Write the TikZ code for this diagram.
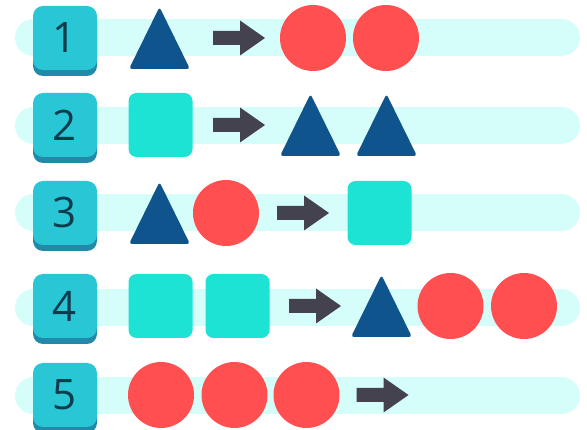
\documentclass[tikz,border=0pt]{standalone}
\usepackage{fontspec}
\setmainfont{Open Sans}
\definecolor{barc}{HTML}{D5FDFA}
\definecolor{boxc}{HTML}{29C6D6}
\definecolor{lipc}{HTML}{2389A9}
\definecolor{digitc}{HTML}{0F3C4C}
\definecolor{tric}{HTML}{10548E}
\definecolor{dotc}{HTML}{FF4F51}
\definecolor{sqc}{HTML}{1DE3D4}
\definecolor{arrc}{HTML}{43424E}

\tikzset{
  numbox/.style={fill=boxc,rounded corners=10pt,minimum width=64pt,minimum height=64pt,
    inner sep=0pt,text=digitc,font=\fontsize{42}{42}\selectfont},
  lipbox/.style={fill=lipc,rounded corners=10pt,minimum width=64pt,minimum height=64pt,inner sep=0pt},
  barline/.style={draw=barc,line width=37pt,line cap=round},
  pics/tri/.style={code={\fill[tric,rounded corners=3pt] (0,31) -- (-30.5,31) -- (0,-31) -- (30.5,31) -- cycle;}},
  pics/dot/.style={code={\fill[dotc] (0,0) circle (33);}},
  pics/sq/.style={code={\fill[sqc,rounded corners=8pt] (-32,-32) rectangle (32,32);}},
  pics/arr/.style={code={\fill[arrc] (-26,-7) -- (1,-7) -- (1,-17.5) -- (26,0) -- (1,17.5) -- (1,7) -- (-26,7) -- cycle;}}
}

\begin{document}
\begin{tikzpicture}[x=1pt,y=-1pt]
\useasboundingbox (0,0) rectangle (587,430);
\foreach \r/\y/\by/\items in {
1/38/37.5/{tri/159.5,arr/239,dot/313,dot/386},
2/125/125.5/{sq/160.5,arr/239,tri/310.5,tri/386.5},
3/213/212.5/{tri/159.5,dot/226,arr/303,sq/379.5},
4/306/308/{sq/160.5,sq/237.5,arr/315,tri/381.5,dot/450.5,dot/524},
5/395/396/{dot/161,dot/234.5,dot/306.5,arr/382.5}}
{
  \draw[barline] (33.5,\by) coordinate (b\r) -- (561.5,\by) coordinate (e\r);
  \node[lipbox] (l\r) at (65,\y+6) {};
  \node[numbox] (n\r) at (65,\y) {\r};
  \foreach \p/\x in \items {\pic at (\x,\y) {\p};}
}
\end{tikzpicture}
\end{document}
